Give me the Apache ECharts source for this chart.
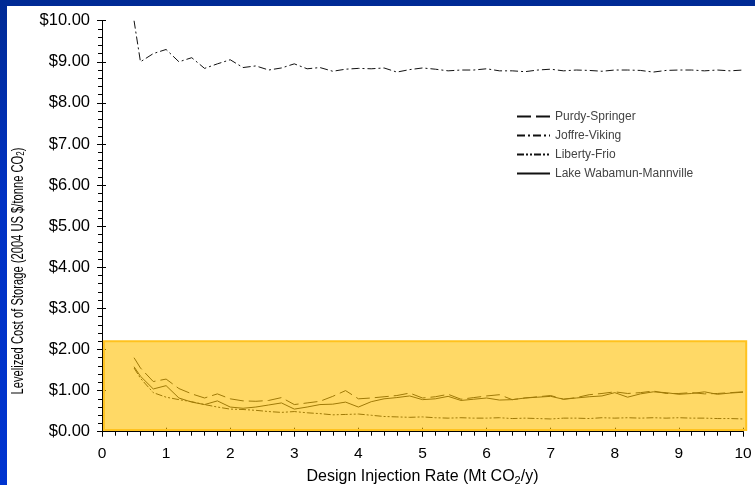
<!DOCTYPE html>
<html>
<head>
<meta charset="utf-8">
<script src="https://cdn.jsdelivr.net/npm/echarts@6/dist/echarts.min.js"></script>
<style>
html, body { margin: 0; padding: 0; width: 755px; height: 485px; overflow: hidden; }
body { background: linear-gradient(to bottom, #002a94 0px, #0031c4 200px, #0034d0 485px); position: relative; }
#panel { position: absolute; left: 7px; top: 6px; width: 748px; height: 479px; background: #ffffff; }
#chart { position: absolute; left: 0; top: 0; width: 755px; height: 485px; }
</style>
</head>
<body>
<div id="panel"></div>
<div id="chart"></div>
<script>
// Design injection rate (Mt CO2/y)
const xValues = [0.5, 0.6, 0.8, 1.0, 1.2, 1.4, 1.6, 1.8, 2.0, 2.2,
  2.4, 2.6, 2.8, 3.0, 3.2, 3.4, 3.6, 3.8, 4.0, 4.2,
  4.4, 4.6, 4.8, 5.0, 5.2, 5.4, 5.6, 5.8, 6.0, 6.2,
  6.4, 6.6, 6.8, 7.0, 7.2, 7.4, 7.6, 7.8, 8.0, 8.2,
  8.4, 8.6, 8.8, 9.0, 9.2, 9.4, 9.6, 9.8, 10.0];

// Levelized cost of storage (2004 US $/tonne CO2)
const purdySpringer = [1.80, 1.55, 1.22, 1.28, 1.05, 0.92, 0.82, 0.92, 0.80, 0.75,
  0.74, 0.76, 0.83, 0.66, 0.70, 0.74, 0.86, 1.00, 0.80, 0.82,
  0.85, 0.88, 0.94, 0.82, 0.85, 0.91, 0.79, 0.83, 0.87, 0.90,
  0.78, 0.82, 0.85, 0.88, 0.79, 0.83, 0.90, 0.93, 0.97, 0.93,
  0.95, 0.99, 0.93, 0.93, 0.95, 0.92, 0.93, 0.95, 0.97];
const joffreViking = [10.0, 9.0, 9.2, 9.3, 9.0, 9.1, 8.84, 8.95, 9.05, 8.86,
  8.9, 8.8, 8.85, 8.95, 8.83, 8.86, 8.77, 8.82, 8.84, 8.83,
  8.85, 8.75, 8.81, 8.85, 8.82, 8.78, 8.80, 8.80, 8.83, 8.78,
  8.78, 8.76, 8.80, 8.82, 8.78, 8.80, 8.79, 8.77, 8.80, 8.80,
  8.79, 8.75, 8.79, 8.80, 8.80, 8.78, 8.80, 8.78, 8.80];
const libertyFrio = [1.55, 1.30, 0.95, 0.84, 0.78, 0.73, 0.66, 0.60, 0.55, 0.54,
  0.52, 0.49, 0.47, 0.49, 0.46, 0.44, 0.41, 0.42, 0.43, 0.40,
  0.37, 0.36, 0.35, 0.36, 0.34, 0.33, 0.34, 0.33, 0.33, 0.34,
  0.32, 0.33, 0.32, 0.31, 0.33, 0.33, 0.32, 0.34, 0.33, 0.34,
  0.33, 0.34, 0.33, 0.34, 0.33, 0.33, 0.32, 0.32, 0.31];
const lakeWabamun = [1.58, 1.35, 1.04, 1.12, 0.82, 0.72, 0.66, 0.75, 0.60, 0.57,
  0.60, 0.65, 0.70, 0.55, 0.60, 0.66, 0.67, 0.72, 0.60, 0.73,
  0.80, 0.83, 0.87, 0.78, 0.80, 0.86, 0.76, 0.79, 0.82, 0.77,
  0.78, 0.82, 0.84, 0.86, 0.79, 0.82, 0.85, 0.87, 0.95, 0.84,
  0.92, 0.97, 0.95, 0.91, 0.93, 0.97, 0.91, 0.94, 0.96];

const seriesNames = ['Purdy-Springer', 'Joffre-Viking', 'Liberty-Frio', 'Lake Wabamun-Mannville'];
const xAxisTitle = 'Design Injection Rate (Mt CO{sub|2}/y)';
const yAxisTitle = 'Levelized Cost of Storage (2004 US $/tonne CO{sub|2})';
// highlighted low-cost band: [xStart, yStart, xEnd, yEnd]
const band = [0.03, 0.04, 10.05, 2.2];

const FONT = '"Liberation Sans", Arial, sans-serif';
const pair = (ys) => xValues.map((x, i) => [x, ys[i]]);

const lineSeries = (name, ys, type) => ({
  name: name,
  type: 'line',
  data: pair(ys),
  symbol: 'none',
  showSymbol: false,
  z: 2,
  lineStyle: { color: '#111', width: 1, type: type },
  itemStyle: { color: '#111' }
});

const chart = echarts.init(document.getElementById('chart'), null, { renderer: 'canvas' });
chart.setOption({
  animation: false,
  backgroundColor: 'transparent',
  grid: { left: 102, right: 12, top: 20.7, bottom: 53.3, containLabel: false, outerBoundsMode: 'none' },
  legend: {
    data: seriesNames,
    orient: 'vertical',
    left: 511,
    top: 105.5,
    itemWidth: 33,
    itemHeight: 12,
    itemGap: 7,
    itemStyle: { opacity: 0 },
    textStyle: { fontFamily: FONT, fontSize: 12, color: '#444' }
  },
  xAxis: [{
    type: 'value', min: 0, max: 10, interval: 1,
    axisLine: { show: true, onZero: false, lineStyle: { color: '#000', width: 1 } },
    axisTick: { show: true, length: 5, lineStyle: { color: '#000' } },
    minorTick: { show: true, splitNumber: 5, length: 4, lineStyle: { color: '#000' } },
    splitLine: { show: false },
    axisLabel: { fontFamily: FONT, fontSize: 15.5, color: '#000', margin: 14 },
    name: xAxisTitle,
    nameLocation: 'middle',
    nameGap: 33,
    nameTextStyle: {
      fontFamily: FONT, fontSize: 16, color: '#000', lineHeight: 20,
      rich: { sub: { fontFamily: FONT, fontSize: 11, lineHeight: 11, verticalAlign: 'bottom', color: '#000' } }
    }
  }, {
    type: 'value', min: 0, max: 10, interval: 1, position: 'bottom',
    axisLine: { show: false, onZero: false },
    axisTick: { show: true, inside: true, length: 4, lineStyle: { color: '#000' } },
    axisLabel: { show: false },
    splitLine: { show: false }
  }],
  yAxis: [{
    type: 'value', min: 0, max: 10, interval: 1,
    axisLine: { show: true, onZero: false, lineStyle: { color: '#000', width: 1 } },
    axisTick: { show: true, length: 5, lineStyle: { color: '#000' } },
    minorTick: { show: true, splitNumber: 5, length: 4, lineStyle: { color: '#000' } },
    splitLine: { show: false },
    axisLabel: {
      fontFamily: FONT, fontSize: 16.5, color: '#000', margin: 12,
      formatter: (v) => '$' + v.toFixed(2)
    }
  }, {
    type: 'value', min: 0, max: 10, interval: 1, position: 'left',
    axisLine: { show: false, onZero: false },
    axisTick: { show: true, inside: true, length: 4, lineStyle: { color: '#000' } },
    axisLabel: { show: false },
    splitLine: { show: false }
  }],
  graphic: [{
    type: 'text',
    x: 19,
    y: 271,
    rotation: Math.PI / 2,
    scaleY: 1.4,
    style: {
      text: yAxisTitle,
      fontFamily: FONT,
      fontSize: 11.2,
      fill: '#000',
      align: 'center',
      verticalAlign: 'middle',
      rich: { sub: { fontFamily: FONT, fontSize: 8, lineHeight: 8, verticalAlign: 'bottom', fill: '#000' } }
    }
  }],
  series: [
    lineSeries(seriesNames[0], purdySpringer, [14, 5]),
    lineSeries(seriesNames[1], joffreViking, [8, 3, 2, 3]),
    lineSeries(seriesNames[2], libertyFrio, [7, 2, 2, 2, 2, 2]),
    lineSeries(seriesNames[3], lakeWabamun, 'solid'),
    {
      name: 'band',
      type: 'custom',
      z: 10,
      silent: true,
      clip: false,
      data: [band],
      encode: { x: [0, 2], y: [1, 3] },
      renderItem: (params, api) => {
        const p0 = api.coord([api.value(0), api.value(1)]);
        const p1 = api.coord([api.value(2), api.value(3)]);
        return {
          type: 'rect',
          shape: { x: p0[0], y: p1[1], width: p1[0] - p0[0], height: p0[1] - p1[1] },
          style: { fill: 'rgba(255,192,0,0.6)', stroke: '#FFC21F', lineWidth: 2 }
        };
      }
    }
  ]
});
</script>
</body>
</html>
